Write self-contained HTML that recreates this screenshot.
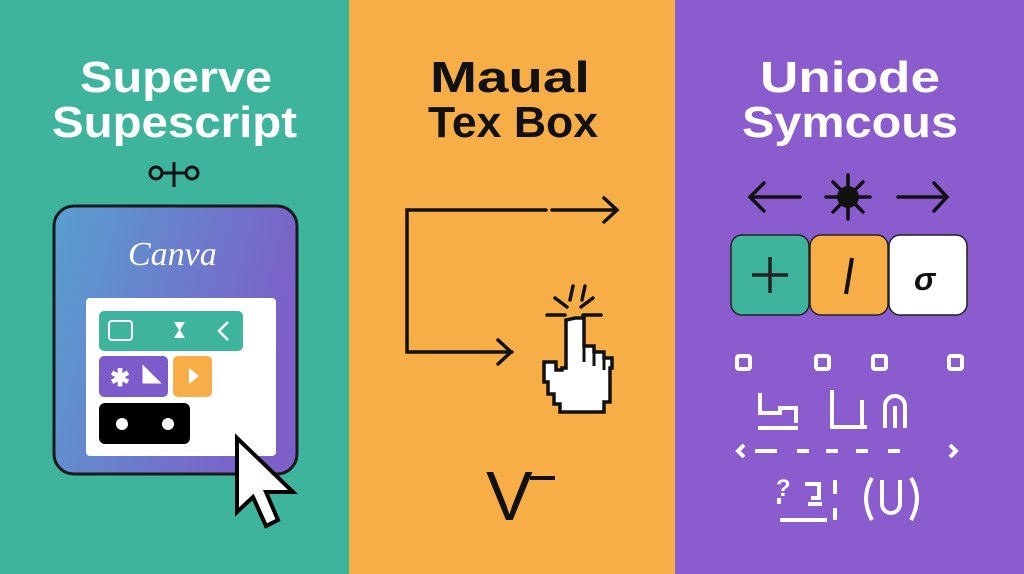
<!DOCTYPE html>
<html><head><meta charset="utf-8"><style>
html,body{margin:0;padding:0;width:1024px;height:574px;overflow:hidden;}
svg{display:block;}
text{font-family:"Liberation Sans",sans-serif;font-weight:bold;}
</style></head><body>
<svg width="1024" height="574" viewBox="0 0 1024 574" xmlns="http://www.w3.org/2000/svg">
<defs>
<linearGradient id="cg" x1="0" y1="0" x2="1" y2="0.3">
<stop offset="0" stop-color="#589fd0"/><stop offset="1" stop-color="#7c60c8"/>
</linearGradient>
</defs>
<rect x="0" y="0" width="350" height="574" fill="#3fb49d"/>
<rect x="349" y="0" width="327" height="574" fill="#f8ae47"/>
<rect x="675" y="0" width="349" height="574" fill="#8a5ccd"/>

<text x="80" y="92" font-size="44" fill="#fff" textLength="192" lengthAdjust="spacingAndGlyphs">Superve</text>
<text x="52" y="137" font-size="44" fill="#fff" textLength="245" lengthAdjust="spacingAndGlyphs">Supescript</text>
<text x="430" y="92" font-size="44" fill="#111" textLength="160" lengthAdjust="spacingAndGlyphs">Maual</text>
<text x="428" y="137" font-size="44" fill="#111" textLength="170" lengthAdjust="spacingAndGlyphs">Tex Box</text>
<text x="760" y="92" font-size="44" fill="#fff" textLength="180" lengthAdjust="spacingAndGlyphs">Uniode</text>
<text x="742" y="137" font-size="44" fill="#fff" textLength="216" lengthAdjust="spacingAndGlyphs">Symcous</text>

<g stroke="#111" stroke-width="3" fill="none">
<circle cx="156" cy="173" r="6"/><circle cx="192" cy="173" r="6"/>
<line x1="162" y1="173" x2="186" y2="173"/><line x1="174" y1="162" x2="174" y2="187"/>
</g>

<rect x="54" y="206" width="243" height="268" rx="20" fill="url(#cg)" stroke="#1a1a1a" stroke-width="3"/>
<text x="128" y="265" font-size="34" fill="#fff" style="font-family:'Liberation Serif',serif;font-style:italic;font-weight:normal">Canva</text>
<rect x="86" y="298" width="190" height="158" rx="4" fill="#fff"/>
<rect x="99" y="311" width="144" height="40" rx="5" fill="#3fb49d"/>
<rect x="109" y="321" width="23" height="19" rx="3" fill="none" stroke="#fff" stroke-width="2"/>
<path d="M174 322 h11 l-5 8 l5 8 h-11 l5 -8 z" fill="#fff"/>
<path d="M228 322 l-9 9 l9 9" stroke="#fff" stroke-width="2.5" fill="none"/>
<rect x="99" y="356" width="69" height="41" rx="5" fill="#7c5ccb"/>
<text x="110" y="386" font-size="24" fill="#fff">✱</text>
<path d="M144 368 v14 h14 z M146 370 l11 11" fill="#fff" stroke="#fff" stroke-width="3"/>
<rect x="173" y="356" width="39" height="41" rx="5" fill="#f8ae47"/>
<path d="M189 368 l10 8 l-10 8 z" fill="#fff"/>
<rect x="99" y="403" width="91" height="41" rx="6" fill="#000"/>
<circle cx="122" cy="424" r="6" fill="#fff"/><circle cx="168" cy="424" r="6" fill="#fff"/>
<path d="M237 438 L237 512 L253 497 L266 526 L278 520 L266 492 L293 492 Z" fill="#fff" stroke="#000" stroke-width="4" stroke-linejoin="miter"/>

<g stroke="#111" stroke-width="3.5" fill="none" stroke-linecap="round">
<path d="M546 210 H407 V352 H512"/>
<path d="M552 210 H616"/>
<path d="M604 198 L617 210 L604 222"/>
<path d="M498 340 L511 352 L498 364"/>
<path d="M547 315 h18 M583 315 h18 M555 298 l12 9 M581 307 l12 -9 M573 286 l-3 14 M585 286 l-3 14"/>
</g>
<path d="M575 318 h9 v28 h10 v6 h10 v6 h8 v10 h-2 v34 h-6 v10 h-44 v-8 h-6 v-10 h-6 v-12 h-4 v-20 h12 v8 h6 v-2 h4 v-48 z" fill="#fff" stroke="#111" stroke-width="3.5" stroke-linejoin="miter"/>
<path d="M584 346 v16 M594 352 v14 M604 358 v12" stroke="#111" stroke-width="3"/>
<text x="486" y="520" font-size="70" fill="#111" style="font-weight:normal">V</text>
<rect x="530" y="476" width="25" height="4" fill="#111"/>

<g stroke="#111" stroke-width="3.5" fill="none" stroke-linecap="round">
<path d="M800 197 H750 M764 183 L750 197 L764 211"/>
<path d="M898 197 H947 M934 183 L947 197 L934 211"/>
<path d="M848 175 v44 M826 197 h44 M833 182 l30 30 M863 182 l-30 30"/>
</g>
<circle cx="848" cy="197" r="11" fill="#111"/>
<rect x="731" y="235" width="78" height="80" rx="11" fill="#3fb49d" stroke="#222" stroke-width="1.5"/>
<rect x="810" y="235" width="78" height="80" rx="11" fill="#f8ae47" stroke="#222" stroke-width="1.5"/>
<rect x="889" y="235" width="78" height="80" rx="11" fill="#fff" stroke="#222" stroke-width="1.5"/>
<path d="M752 275 h36 M770 257 v36" stroke="#222" stroke-width="3.5"/>
<path d="M852 258 l-6 36" stroke="#111" stroke-width="4"/>
<text x="914" y="290" font-size="32" fill="#111" style="font-style:italic;font-weight:bold">σ</text>
<g fill="none" stroke="#fff" stroke-width="4">
<rect x="737" y="356" width="13" height="13" rx="2"/>
<rect x="816" y="356" width="13" height="13" rx="2"/>
<rect x="873" y="356" width="13" height="13" rx="2"/>
<rect x="949" y="356" width="13" height="13" rx="2"/>
<path d="M760 393 v20 h20 v-7 M758 428 h40 M780 408 h16 v15"/>
<path d="M832 390 v37 h35"/>
<path d="M862 400 v28 M885 428 v-22 a10 10 0 0 1 20 0 v22 M895 406 v22"/>
<path d="M744 445 l-6 6 l6 6 M755 451 h22 M797 451 h12 M826 451 h12 M856 451 h12 M888 451 h12 M950 445 l6 6 l-6 6"/>
<path d="M779 498 v6 M805 484 h14 v14 h-8 M808 504 h14 M780 520 h47 M835 480 v14 M835 508 v12"/>
<path d="M872 478 q-12 20 0 42 M882 480 v24 a9 9 0 0 0 18 0 v-24 M911 478 q12 20 0 42"/>
</g>
<text x="776" y="496" font-size="24" fill="#fff">?</text>
</svg>
</body></html>
